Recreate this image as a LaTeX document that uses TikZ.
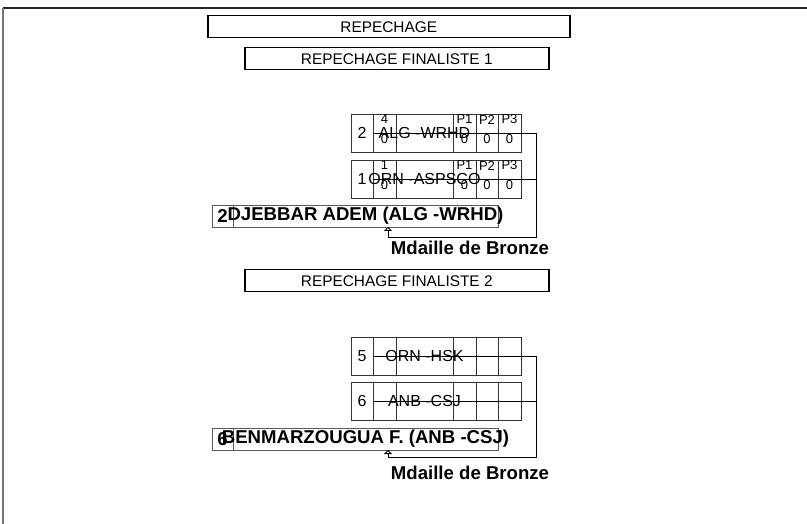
\documentclass[tikz,border=0pt]{standalone}
\usepackage{fontspec}
\setmainfont{Liberation Sans}
\usetikzlibrary{arrows.meta, positioning}

\begin{document}
\begin{tikzpicture}[
    x=1pt, y=-1pt,
    node distance=0pt,
    title/.style={rectangle, draw, line width=1.5pt, inner sep=0pt,
                  minimum height=22pt, font=\fontsize{15.4}{17}\selectfont},
    cell/.style={rectangle, draw=black!80, line width=0.8pt, inner sep=0pt,
                 outer sep=0pt, minimum height=38pt},
    wcell/.style={cell, draw=black!65, minimum height=22pt},
    entry/.style={inner sep=0pt, font=\fontsize{16}{18}\selectfont},
    tiny/.style={inner sep=0pt, font=\fontsize{13}{15}\selectfont},
    winner/.style={inner sep=0pt, font=\fontsize{18.6}{21}\selectfont\bfseries},
    link/.style={draw, line width=0.8pt},
    up/.style={-{Triangle[open, length=4pt, width=8pt]}, line width=0.8pt}
  ]
  \useasboundingbox (0,0) rectangle (807,524);
  % page frame
  \draw[line width=1.5pt, black!85] (3,8) -- (807,8);
  \draw[line width=2pt, black!55] (3,8) -- (3,524);

  % headers
  \node[title, minimum width=362pt, anchor=north west] (rep) at (207,15) {REPECHAGE};
  \node[title, minimum width=304pt, anchor=north west] (fin1) at (244,47) {REPECHAGE FINALISTE 1};
  \node[title, minimum width=304pt, anchor=north west] (fin2) at (244,269) {REPECHAGE FINALISTE 2};

  % match rows
  \foreach \row/\ytop in {a1/114, a2/160, b1/337, b2/382} {
    \node[cell, minimum width=22pt, anchor=north west] (\row num) at (351,\ytop) {};
    \node[cell, minimum width=23pt, right=of \row num]  (\row seed) {};
    \node[cell, minimum width=57pt, right=of \row seed] (\row name) {};
    \node[cell, minimum width=23pt, right=of \row name] (\row p1) {};
    \node[cell, minimum width=22pt, right=of \row p1]   (\row p2) {};
    \node[cell, minimum width=23pt, right=of \row p2]   (\row p3) {};
  }

  \node[entry] (a1numtxt) at (a1num) {2};
  \node[entry] (a1team) at (a1name) {ALG -WRHD};
  \node[entry] (a2numtxt) at (a2num) {1};
  \node[entry] (a2team) at (a2name) {ORN -ASPSCO};
  \node[entry] (b1numtxt) at (b1num) {5};
  \node[entry] (b1team) at (b1name) {ORN -HSK};
  \node[entry] (b2numtxt) at (b2num) {6};
  \node[entry] (b2team) at (b2name) {ANB -CSJ};

  % seeds and scores
  \node[tiny] (a1seedup) at ([yshift=13.5pt]a1seed.center) {4};
  \node[tiny] (a1seeddn) at ([yshift=-6.5pt]a1seed.center) {0};
  \node[tiny] (a2seedup) at ([yshift=13.5pt]a2seed.center) {1};
  \node[tiny] (a2seeddn) at ([yshift=-6.5pt]a2seed.center) {0};
  \foreach \row in {a1, a2} {
    \foreach \p in {1,2,3} {
      \node[tiny] (\row p\p up) at ([yshift=13.5pt]\row p\p.center) {P\p};
      \node[tiny] (\row p\p dn) at ([yshift=-6.5pt]\row p\p.center) {0};
    }
  }

  % winners
  \node[wcell, minimum width=21pt, anchor=north west] (win1seed) at (212,205) {};
  \node[wcell, minimum width=265pt, right=of win1seed] (win1name) {};
  \node[winner] (win1seedtxt) at (win1seed) {2};
  \node[winner] (win1txt) at (win1name) {DJEBBAR ADEM (ALG -WRHD)};
  \node[winner] (medal1) at (470,248) {Mdaille de Bronze};

  \node[wcell, minimum width=21pt, anchor=north west] (win2seed) at (212,428) {};
  \node[wcell, minimum width=265pt, right=of win2seed] (win2name) {};
  \node[winner] (win2seedtxt) at (win2seed) {6};
  \node[winner] (win2txt) at (win2name) {BENMARZOUGUA F. (ANB -CSJ)};
  \node[winner] (medal2) at (470,473) {Mdaille de Bronze};

  % brackets
  \coordinate (bend1) at (536,237);
  \coordinate (tip1) at (388,237);
  \draw[link] (a2seed.west) -- (a2seed.west -| bend1);
  \draw[link] (a1seed.west) -| (bend1) -- (tip1);
  \draw[up] (tip1) -- (tip1 |- win1name.south);

  \coordinate (bend2) at (536,457);
  \coordinate (tip2) at (388,457);
  \draw[link] (b2seed.west) -- (b2seed.west -| bend2);
  \draw[link] (b1seed.west) -| (bend2) -- (tip2);
  \draw[up] (tip2) -- (tip2 |- win2name.south);
\end{tikzpicture}
\end{document}
